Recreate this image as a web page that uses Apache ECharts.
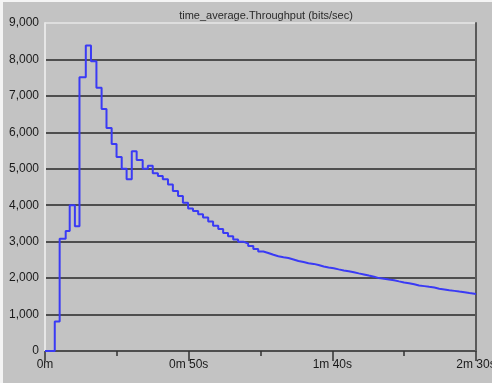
<!DOCTYPE html>
<html>
<head>
<meta charset="UTF-8">
<title>time_average.Throughput</title>
<script src="https://cdn.jsdelivr.net/npm/echarts@6/dist/echarts.min.js"></script>
<style>
  html, body { margin: 0; padding: 0; background: #ffffff; }
  #chart { width: 492px; height: 383px; }
</style>
</head>
<body>
<div id="chart"></div>
<script>
// step start times (seconds) and the throughput held from each one
var times = [0, 3.4, 5.1, 7.2, 8.6, 10.4, 12.0, 14.2, 16.0, 17.9, 19.7, 21.4, 23.2, 24.9, 26.7, 28.4,
  30.2, 31.9, 34.0, 35.8, 37.5, 39.3, 41.0, 42.8, 44.5, 46.3, 48.0, 49.8, 51.5, 53.3, 55.0, 56.8,
  58.5, 60.3, 62.0, 63.7, 65.5, 67.2, 69.0, 70.7, 72.5, 74.2, 76.0, 77.7, 79.5, 81.2, 83.0, 84.7,
  86.5, 88.2, 90.0, 91.7, 93.5, 95.2, 97.0, 98.7, 100.5, 102.2, 104.0, 105.7, 107.5, 109.2, 111.0,
  112.7, 114.5, 116.2, 118.0, 119.7, 121.5, 123.2, 125.0, 126.7, 128.5, 130.2, 132.0, 133.7, 135.5,
  137.2, 139.0, 140.7, 142.5, 144.2, 146.0, 147.7, 149.5, 150];
var throughput = [0, 810, 3080, 3290, 4000, 3420, 7510, 8380, 7950, 7220, 6640, 6120, 5680, 5320, 5000, 4710,
  5480, 5240, 5000, 5080, 4880, 4800, 4710, 4570, 4390, 4250, 4070, 3910, 3840, 3750, 3660, 3550,
  3440, 3350, 3240, 3150, 3060, 3000, 2950, 2880, 2800, 2730, 2690, 2640, 2600, 2570, 2550, 2510,
  2470, 2440, 2410, 2390, 2360, 2320, 2290, 2270, 2240, 2210, 2190, 2160, 2130, 2100, 2070,
  2040, 2000, 1980, 1960, 1940, 1910, 1880, 1860, 1830, 1800, 1780, 1760, 1740, 1710,
  1690, 1670, 1650, 1630, 1610, 1590, 1570, 1560, 1560];
var xTickLabels = ['0m', '0m 50s', '1m 40s', '2m 30s'];
var yTickLabels = ['0', '1,000', '2,000', '3,000', '4,000', '5,000', '6,000', '7,000', '8,000', '9,000'];

var seriesData = [];
for (var i = 0; i < times.length; i++) {
  seriesData.push([times[i], throughput[i]]);
}

var chart = echarts.init(document.getElementById('chart'));
var labelFont = { fontFamily: 'Liberation Sans, Arial, sans-serif', fontSize: 12, color: '#1a1a1a' };

chart.setOption({
  backgroundColor: '#c3c3c3',
  animation: false,
  title: {
    text: 'time_average.Throughput (bits/sec)',
    left: 261,
    top: 5,
    textAlign: 'center',
    textStyle: { fontFamily: 'Liberation Sans, Arial, sans-serif', fontSize: 11, fontWeight: 'normal', color: '#2a2a2a' }
  },
  graphic: [
    { type: 'rect', left: 0, top: 0, shape: { width: 492, height: 2 }, style: { fill: '#f4f4f4' } },
    { type: 'rect', left: 0, top: 0, shape: { width: 3, height: 383 }, style: { fill: '#f4f4f4' } }
  ],
  grid: { left: 45, right: 16, top: 23, bottom: 32, outerBoundsMode: 'none', containLabel: false },
  xAxis: {
    type: 'value',
    min: 0,
    max: 150,
    interval: 50,
    offset: 3,
    axisLine: { show: false },
    axisTick: { show: true, length: 10, lineStyle: { color: '#333', width: 1.5 } },
    minorTick: { show: true, splitNumber: 2, length: 5, lineStyle: { color: '#333', width: 1.5 } },
    splitLine: { show: false },
    axisLabel: {
      margin: 5,
      fontFamily: labelFont.fontFamily, fontSize: labelFont.fontSize, color: labelFont.color,
      formatter: function (v) { return xTickLabels[Math.round(v / 50)]; }
    }
  },
  yAxis: [{
    type: 'value',
    min: 0,
    max: 9000,
    interval: 1000,
    axisLine: { show: true, lineStyle: { color: '#e6e6e6', width: 2 } },
    axisTick: { show: false },
    splitLine: {
      show: true,
      lineStyle: {
        width: 2,
        color: ['#4e4e4e', '#4e4e4e', '#4e4e4e', '#4e4e4e', '#4e4e4e', '#4e4e4e', '#4e4e4e', '#4e4e4e', '#4e4e4e', '#dedede']
      }
    },
    axisLabel: {
      margin: 6,
      fontFamily: labelFont.fontFamily, fontSize: labelFont.fontSize, color: labelFont.color,
      formatter: function (v) { return yTickLabels[Math.round(v / 1000)]; }
    }
  }, {
    type: 'value',
    position: 'right',
    min: 0,
    max: 9000,
    interval: 1000,
    axisLine: { show: true, lineStyle: { color: '#5a5a5a', width: 2 } },
    axisTick: { show: false },
    axisLabel: { show: false },
    splitLine: { show: false }
  }],
  series: [{
    type: 'line',
    step: 'end',
    data: seriesData,
    showSymbol: false,
    lineStyle: { color: '#3a3af5', width: 2 },
    clip: false
  }]
});
</script>
</body>
</html>
